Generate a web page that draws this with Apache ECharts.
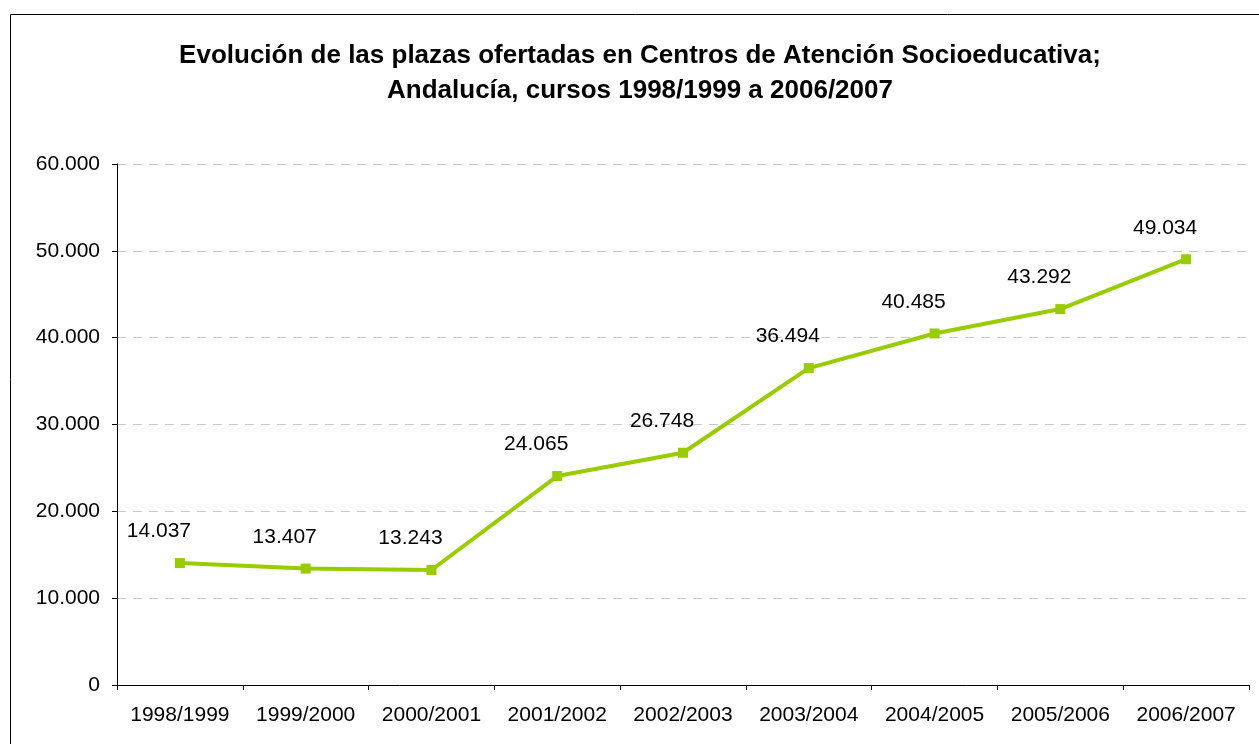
<!DOCTYPE html>
<html><head><meta charset="utf-8">
<script src="https://cdn.jsdelivr.net/npm/echarts@6/dist/echarts.min.js"></script>
<style>html,body{margin:0;padding:0;background:#fff}#c{width:1259px;height:744px}</style>
</head><body><div id="c"></div>
<script>
const categories = ['1998/1999','1999/2000','2000/2001','2001/2002','2002/2003','2003/2004','2004/2005','2005/2006','2006/2007'];
const plazas = [14037, 13407, 13243, 24065, 26748, 36494, 40485, 43292, 49034];
const titleLines = ['Evolución de las plazas ofertadas en Centros de Atención Socioeducativa;','Andalucía, cursos 1998/1999 a 2006/2007'];
const fmt = v => String(v).replace(/\B(?=(\d{3})+(?!\d))/g, '.');
const FF = '"Liberation Sans", Arial, sans-serif';
const chart = echarts.init(document.getElementById('c'), null, {renderer:'canvas'});
chart.setOption({
  animation:false,
  textStyle:{fontFamily:FF},
  graphic:[{type:'rect',shape:{x:10.5,y:14.5,width:1300,height:800},style:{fill:'none',stroke:'#000',lineWidth:1},silent:true}],
  title:{text:titleLines.join('\n'),left:635,textAlign:'center',top:33,
    textStyle:{fontSize:26,fontWeight:'bold',color:'#000',lineHeight:35,fontFamily:FF}},
  grid:{left:117,right:10,top:164,bottom:59,containLabel:false},
  xAxis:{type:'category',data:categories,boundaryGap:true,
    axisLine:{lineStyle:{color:'#000',width:1}},
    axisTick:{show:true,length:5,interval:0,lineStyle:{color:'#000'},alignWithLabel:false},
    axisLabel:{color:'#000',fontSize:21,margin:20,interval:0,fontFamily:FF}},
  yAxis:{type:'value',min:0,max:60000,interval:10000,
    axisLine:{show:true,lineStyle:{color:'#000',width:1}},
    axisTick:{show:true,length:5,lineStyle:{color:'#000'}},
    axisLabel:{color:'#000',fontSize:21,margin:17,formatter:v=>fmt(v),fontFamily:FF},
    splitLine:{show:true,lineStyle:{color:'#c8c8c8',type:[9,7],width:1}}},
  series:[{type:'line',data:plazas,symbol:'rect',symbolSize:10,
    lineStyle:{color:'#99CC00',width:4},itemStyle:{color:'#99CC00'},
    label:{show:true,position:'top',distance:5,offset:[-21,-11],color:'#000',fontSize:21,
      formatter:p=>fmt(p.value),fontFamily:FF}}]
});
</script></body></html>
